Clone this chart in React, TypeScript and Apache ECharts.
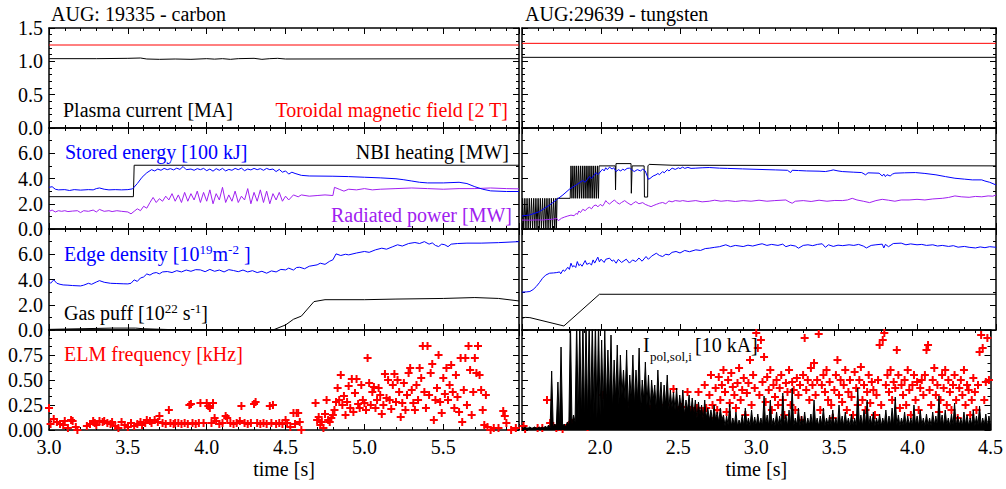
import React, { useEffect, useRef } from "react";
import * as echarts from "echarts";

const FONT = "'Liberation Serif', 'Times New Roman', Times, serif";
const BLUE = "#0000ff";
const RED = "#ff0000";
const PURPLE = "#a020f0";
const BLACK = "#000000";

const titles = ["AUG: 19335 - carbon", "AUG:29639 - tungsten"];
const xRangeLeft = [3.0, 5.98];
const xRangeRight = [1.5, 4.5];
// [min, max, interval, minorSplit, decimals]
const yScales = [
  [0, 1.5, 0.5, 5, 1],
  [0, 8, 2, 2, 1],
  [0, 8, 2, 2, 1],
  [0, 1, 0.25, 3, 2],
];

// Row 1: plasma current and toroidal field
const ipLeft = [[3.0, 1.04], [3.3, 1.04], [3.5, 1.045], [3.58, 1.05], [3.62, 1.035], [3.7, 1.03], [3.8, 1.035], [3.9, 1.03], [4.0, 1.04], [4.05, 1.033], [4.1, 1.04], [4.15, 1.03], [4.2, 1.04], [4.3, 1.045], [4.35, 1.03], [4.4, 1.04], [4.45, 1.045], [4.5, 1.035], [5.98, 1.04]];
const btLeft = [[3.0, 1.245], [5.98, 1.245]];
const ipRight = [[1.5, 1.06], [4.5, 1.06]];
const btRight = [[1.5, 1.27], [4.5, 1.27]];

// Row 2: stored energy, NBI, radiated power
const nbiLeft = [[3.0, 2.56], [3.535, 2.56], [3.54, 5.05], [5.98, 5.05]];
const weLeft = [[3.0, 3.3], [3.02, 3.35], [3.04, 3.15], [3.06, 3.1], [3.1, 3.12], [3.13, 3.05], [3.16, 3.12], [3.2, 3.08], [3.25, 3.12], [3.28, 3.1], [3.3, 3.2], [3.32, 3.25], [3.35, 3.15], [3.38, 3.1], [3.42, 3.12], [3.46, 3.1], [3.5, 3.12], [3.53, 3.18], [3.56, 3.6], [3.59, 4.1], [3.62, 4.45], [3.65, 4.7], [3.67, 4.6], [3.69, 4.75], [3.71, 4.65], [3.73, 4.8], [3.75, 4.7], [3.77, 4.78], [3.79, 4.68], [3.81, 4.82], [3.83, 4.72], [3.85, 4.95], [3.87, 4.7], [3.9, 4.75], [3.92, 4.65], [3.94, 4.78], [3.96, 4.7], [3.98, 4.8], [4.0, 4.62], [4.02, 4.75], [4.04, 4.58], [4.06, 4.78], [4.08, 4.65], [4.1, 4.8], [4.12, 4.6], [4.14, 4.72], [4.16, 4.65], [4.18, 4.8], [4.2, 4.7], [4.22, 4.82], [4.24, 4.62], [4.26, 4.75], [4.28, 4.68], [4.3, 4.8], [4.32, 4.7], [4.34, 4.78], [4.36, 4.65], [4.38, 4.8], [4.4, 4.7], [4.42, 4.75], [4.44, 4.55], [4.46, 4.72], [4.48, 4.5], [4.5, 4.6], [4.52, 4.35], [4.54, 4.5], [4.56, 4.4], [4.6, 4.25], [4.65, 4.2], [4.8, 4.18], [4.9, 4.15], [5.0, 4.1], [5.1, 4.05], [5.2, 3.98], [5.25, 3.9], [5.3, 3.8], [5.35, 3.7], [5.4, 3.65], [5.5, 3.65], [5.6, 3.7], [5.65, 3.6], [5.7, 3.35], [5.75, 3.15], [5.8, 3.02], [5.9, 2.97], [5.98, 2.97]];
const radLeft = [[3.0, 1.4], [3.02, 1.5], [3.04, 1.35], [3.06, 1.45], [3.08, 1.4], [3.1, 1.45], [3.12, 1.38], [3.15, 1.42], [3.18, 1.45], [3.2, 1.3], [3.22, 1.45], [3.25, 1.4], [3.28, 1.5], [3.3, 1.35], [3.32, 1.55], [3.35, 1.4], [3.38, 1.45], [3.4, 1.38], [3.43, 1.45], [3.46, 1.4], [3.5, 1.35], [3.52, 1.2], [3.54, 1.4], [3.56, 1.6], [3.58, 1.45], [3.6, 1.8], [3.62, 1.65], [3.64, 2.1], [3.66, 2.5], [3.68, 2.1], [3.7, 2.4], [3.72, 2.2], [3.74, 2.6], [3.76, 2.3], [3.78, 2.8], [3.8, 2.2], [3.82, 2.7], [3.84, 2.1], [3.86, 2.9], [3.88, 2.2], [3.9, 2.8], [3.92, 2.3], [3.94, 3.0], [3.96, 2.1], [3.98, 2.9], [4.0, 2.2], [4.02, 3.1], [4.04, 2.0], [4.06, 2.8], [4.08, 2.3], [4.1, 3.3], [4.12, 2.1], [4.14, 2.7], [4.16, 2.2], [4.18, 3.0], [4.2, 2.1], [4.22, 2.6], [4.24, 2.3], [4.26, 3.2], [4.28, 2.0], [4.3, 2.9], [4.32, 2.2], [4.34, 3.1], [4.36, 2.1], [4.38, 3.0], [4.4, 2.0], [4.42, 2.8], [4.44, 2.3], [4.46, 2.9], [4.48, 2.2], [4.5, 2.6], [4.52, 2.3], [4.55, 2.7], [4.58, 2.55], [4.6, 2.7], [4.65, 2.6], [4.7, 2.65], [4.75, 2.7], [4.8, 2.65], [4.81, 3.3], [4.84, 3.15], [4.87, 3.0], [4.9, 3.15], [4.95, 3.1], [5.0, 3.2], [5.05, 3.1], [5.1, 3.15], [5.2, 3.2], [5.3, 3.25], [5.4, 3.2], [5.5, 3.15], [5.6, 3.2], [5.7, 3.2], [5.8, 3.25], [5.9, 3.2], [5.98, 3.18]];
const nbiRight = [[1.5, 0], [1.504, 2.43], [1.511, 0], [1.518, 2.43], [1.525, 0], [1.532, 2.43], [1.539, 0], [1.546, 2.43], [1.553, 0], [1.56, 2.43], [1.567, 0], [1.574, 2.43], [1.581, 0], [1.588, 2.43], [1.595, 0], [1.602, 2.43], [1.609, 0], [1.616, 2.43], [1.623, 0], [1.63, 2.43], [1.637, 0], [1.644, 2.43], [1.651, 0], [1.658, 2.43], [1.665, 0], [1.672, 2.43], [1.679, 0], [1.686, 2.43], [1.693, 0], [1.7, 2.43], [1.707, 0], [1.714, 2.43], [1.718, 0], [1.722, 2.43], [1.805, 2.43], [1.81, 5.0], [1.816, 2.43], [1.822, 5.0], [1.828, 2.43], [1.834, 5.0], [1.84, 2.43], [1.846, 5.0], [1.852, 2.43], [1.858, 5.0], [1.864, 2.43], [1.87, 5.0], [1.876, 2.43], [1.882, 5.0], [1.888, 2.43], [1.894, 5.0], [1.9, 2.43], [1.906, 5.0], [1.912, 2.43], [1.918, 5.0], [1.924, 2.43], [1.93, 5.0], [1.936, 2.43], [1.942, 5.0], [1.948, 2.43], [1.954, 5.0], [1.96, 2.43], [1.966, 5.0], [1.972, 2.43], [1.978, 5.0], [1.984, 2.43], [1.988, 5.0], [2.09, 5.0], [2.092, 3.1], [2.095, 5.18], [2.19, 5.18], [2.192, 2.83], [2.197, 5.0], [2.273, 5.0], [2.275, 2.53], [2.295, 2.53], [2.297, 5.0], [2.305, 5.12], [2.45, 5.05], [4.5, 5.0]];
const weRight = [[1.5, 1.03], [1.548, 1.11], [1.61, 1.37], [1.675, 1.9], [1.717, 2.3], [1.759, 2.7], [1.8, 3.15], [1.843, 3.49], [1.885, 3.84], [1.9, 3.7], [1.927, 4.15], [1.94, 4.0], [1.969, 4.47], [1.98, 4.3], [2.0, 4.6], [2.01, 4.74], [2.02, 4.6], [2.03, 4.85], [2.04, 4.7], [2.054, 4.9], [2.07, 4.75], [2.08, 4.85], [2.096, 4.55], [2.11, 4.7], [2.125, 4.6], [2.138, 4.74], [2.15, 4.65], [2.165, 4.8], [2.18, 4.82], [2.195, 4.7], [2.21, 4.55], [2.23, 4.7], [2.25, 4.6], [2.264, 4.74], [2.28, 4.6], [2.3, 3.94], [2.31, 4.0], [2.33, 4.2], [2.348, 4.29], [2.36, 4.4], [2.37, 4.3], [2.39, 4.55], [2.4, 4.45], [2.42, 4.7], [2.43, 4.6], [2.45, 4.82], [2.47, 4.72], [2.49, 4.85], [2.5, 4.78], [2.517, 4.9], [2.53, 4.8], [2.55, 4.88], [2.57, 4.8], [2.6, 4.82], [2.64, 4.85], [2.685, 4.87], [2.75, 4.82], [2.8, 4.8], [2.896, 4.76], [3.0, 4.72], [3.106, 4.68], [3.18, 4.65], [3.2, 4.47], [3.21, 4.65], [3.25, 4.63], [3.3, 4.6], [3.38, 4.58], [3.42, 4.55], [3.45, 4.62], [3.47, 4.68], [3.5, 4.6], [3.527, 4.55], [3.6, 4.5], [3.65, 4.47], [3.675, 4.29], [3.69, 4.45], [3.76, 4.42], [3.78, 4.2], [3.79, 4.35], [3.8, 4.15], [3.81, 4.3], [3.83, 4.2], [3.845, 4.35], [3.86, 4.42], [3.92, 4.45], [3.99, 4.47], [4.05, 4.4], [4.12, 4.29], [4.18, 4.15], [4.24, 4.02], [4.3, 3.95], [4.35, 3.89], [4.41, 3.89], [4.43, 3.8], [4.46, 3.7], [4.5, 3.49]];
const radRight = [[1.5, 0.71], [1.55, 0.7], [1.6, 0.72], [1.63, 0.71], [1.66, 0.75], [1.69, 0.77], [1.72, 0.84], [1.73, 0.66], [1.75, 0.85], [1.77, 0.95], [1.79, 1.03], [1.81, 1.1], [1.83, 1.05], [1.843, 1.24], [1.85, 1.15], [1.86, 1.43], [1.87, 1.3], [1.885, 1.56], [1.9, 1.45], [1.915, 1.65], [1.927, 1.72], [1.94, 1.6], [1.955, 1.85], [1.969, 1.9], [1.98, 1.75], [1.995, 1.95], [2.01, 1.82], [2.02, 2.0], [2.03, 2.25], [2.04, 2.1], [2.054, 1.98], [2.07, 2.15], [2.085, 2.3], [2.1, 2.1], [2.117, 1.98], [2.13, 2.1], [2.15, 2.25], [2.165, 2.1], [2.19, 1.9], [2.205, 2.05], [2.22, 2.17], [2.24, 2.0], [2.264, 2.09], [2.28, 1.95], [2.3, 1.85], [2.317, 1.77], [2.33, 1.85], [2.35, 1.95], [2.37, 2.04], [2.39, 2.1], [2.41, 2.0], [2.43, 2.22], [2.45, 2.15], [2.47, 2.25], [2.5, 2.2], [2.517, 2.25], [2.55, 2.18], [2.6, 2.25], [2.64, 2.15], [2.685, 2.2], [2.72, 2.28], [2.76, 2.2], [2.8, 2.25], [2.85, 2.18], [2.9, 2.25], [2.95, 2.2], [3.0, 2.28], [3.05, 2.2], [3.1, 2.25], [3.17, 2.3], [3.19, 2.15], [3.21, 2.04], [3.23, 2.2], [3.28, 2.25], [3.33, 2.18], [3.38, 2.28], [3.43, 2.2], [3.48, 2.26], [3.527, 2.25], [3.56, 2.3], [3.59, 2.43], [3.62, 2.3], [3.66, 2.2], [3.7, 2.09], [3.74, 2.25], [3.78, 2.35], [3.82, 2.28], [3.86, 2.2], [3.9, 2.3], [3.95, 2.3], [4.0, 2.35], [4.05, 2.3], [4.1, 2.38], [4.16, 2.43], [4.2, 2.5], [4.24, 2.62], [4.28, 2.55], [4.33, 2.51], [4.37, 2.58], [4.41, 2.55], [4.45, 2.62], [4.48, 2.6], [4.5, 2.7]];

// Row 3: edge density and gas puff
const densLeft = [[3.0, 3.83], [3.01, 3.7], [3.03, 3.97], [3.05, 3.7], [3.07, 3.62], [3.09, 3.57], [3.12, 3.55], [3.15, 3.52], [3.2, 3.49], [3.22, 3.55], [3.25, 3.7], [3.27, 3.62], [3.3, 3.8], [3.32, 3.91], [3.35, 3.78], [3.39, 3.7], [3.43, 3.68], [3.47, 3.66], [3.5, 3.65], [3.52, 3.7], [3.54, 3.97], [3.56, 3.85], [3.58, 4.12], [3.6, 4.2], [3.62, 4.44], [3.64, 4.35], [3.66, 4.5], [3.68, 4.55], [3.7, 4.45], [3.72, 4.6], [3.75, 4.63], [3.78, 4.55], [3.81, 4.7], [3.84, 4.6], [3.87, 4.75], [3.9, 4.65], [3.93, 4.78], [3.96, 4.76], [3.99, 4.62], [4.02, 4.8], [4.05, 4.65], [4.08, 4.75], [4.11, 4.6], [4.14, 4.78], [4.17, 4.71], [4.2, 4.62], [4.23, 4.75], [4.26, 4.6], [4.29, 4.7], [4.32, 4.55], [4.35, 4.65], [4.38, 4.5], [4.41, 4.68], [4.44, 4.6], [4.47, 4.8], [4.5, 4.76], [4.52, 4.9], [4.55, 4.75], [4.57, 4.95], [4.59, 4.97], [4.62, 4.85], [4.65, 5.05], [4.7, 5.16], [4.72, 5.29], [4.75, 5.2], [4.78, 5.45], [4.8, 5.56], [4.82, 6.03], [4.85, 5.9], [4.88, 6.0], [4.9, 5.95], [4.95, 6.1], [5.0, 6.22], [5.03, 6.15], [5.07, 6.35], [5.11, 6.48], [5.14, 6.4], [5.18, 6.6], [5.21, 6.75], [5.24, 6.65], [5.28, 6.85], [5.32, 6.93], [5.35, 6.85], [5.38, 7.0], [5.41, 6.8], [5.43, 6.9], [5.45, 6.7], [5.47, 6.61], [5.49, 6.8], [5.51, 6.75], [5.53, 6.6], [5.55, 6.8], [5.59, 6.85], [5.65, 6.88], [5.74, 6.88], [5.85, 6.92], [5.98, 7.0]];
const gasLeft = [[3.0, 0.05], [3.2, 0.1], [3.4, 0.15], [3.55, 0.15], [3.6, 0.1], [3.8, 0.02], [4.2, 0.0], [4.42, 0.0], [4.5, 0.4], [4.55, 0.85], [4.6, 1.1], [4.68, 2.25], [4.75, 2.4], [5.0, 2.4], [5.2, 2.45], [5.5, 2.5], [5.7, 2.57], [5.85, 2.5], [5.98, 2.3]];
const densRight = [[1.5, 3.0], [1.53, 3.02], [1.55, 3.05], [1.57, 3.2], [1.59, 3.44], [1.61, 3.75], [1.63, 4.1], [1.65, 4.35], [1.675, 4.5], [1.7, 4.52], [1.72, 4.55], [1.738, 4.6], [1.745, 4.45], [1.76, 4.76], [1.77, 4.65], [1.79, 4.97], [1.8, 4.8], [1.81, 5.29], [1.82, 5.0], [1.83, 5.1], [1.84, 4.95], [1.85, 5.42], [1.86, 5.1], [1.87, 5.21], [1.88, 5.05], [1.9, 5.5], [1.91, 5.2], [1.927, 5.29], [1.94, 5.15], [1.95, 5.55], [1.96, 5.3], [1.98, 5.77], [1.99, 5.4], [2.0, 5.61], [2.02, 5.35], [2.03, 5.6], [2.054, 5.69], [2.07, 5.45], [2.08, 5.55], [2.096, 5.29], [2.11, 5.6], [2.13, 5.35], [2.16, 5.61], [2.18, 5.3], [2.2, 5.55], [2.22, 5.42], [2.24, 5.7], [2.26, 5.45], [2.285, 5.82], [2.3, 5.6], [2.32, 5.85], [2.35, 6.08], [2.37, 5.9], [2.39, 5.82], [2.41, 6.0], [2.43, 5.95], [2.45, 6.15], [2.475, 6.22], [2.5, 6.1], [2.53, 6.3], [2.56, 6.2], [2.6, 6.35], [2.63, 6.3], [2.66, 6.45], [2.685, 6.48], [2.72, 6.55], [2.75, 6.6], [2.79, 6.75], [2.82, 6.6], [2.85, 6.7], [2.9, 6.61], [2.93, 6.72], [2.96, 6.65], [3.0, 6.78], [3.02, 6.83], [3.05, 6.7], [3.08, 6.78], [3.12, 6.7], [3.15, 6.8], [3.17, 6.6], [3.2, 6.72], [3.23, 6.65], [3.25, 6.48], [3.28, 6.7], [3.31, 6.75], [3.34, 6.68], [3.37, 6.78], [3.4, 6.83], [3.42, 6.55], [3.44, 6.75], [3.47, 6.62], [3.5, 6.72], [3.53, 6.68], [3.57, 6.75], [3.6, 6.7], [3.63, 6.78], [3.66, 6.65], [3.68, 6.5], [3.71, 6.7], [3.74, 6.75], [3.78, 6.8], [3.79, 6.5], [3.8, 6.78], [3.82, 6.6], [3.85, 6.85], [3.9, 6.88], [3.93, 6.75], [3.96, 6.82], [4.0, 6.75], [4.03, 6.78], [4.06, 6.7], [4.1, 6.75], [4.13, 6.65], [4.16, 6.7], [4.2, 6.62], [4.23, 6.68], [4.26, 6.56], [4.3, 6.62], [4.33, 6.55], [4.37, 6.5], [4.4, 6.58], [4.43, 6.52], [4.46, 6.6], [4.5, 6.55]];
const gasRight = [[1.5, 0.93], [1.52, 1.0], [1.55, 0.98], [1.765, 0.32], [1.99, 2.83], [4.5, 2.83]];

// Row 4: ELM frequency and poloidal SOL current
const elmLeft = [[3.0, 0.22], [3.01, 0.06], [3.03, 0.11], [3.05, 0.08], [3.07, 0.06], [3.09, 0.05], [3.1, 0.09], [3.12, 0.02], [3.14, 0.1], [3.15, 0.09], [3.17, 0.03], [3.18, 0.0], [3.24, 0.04], [3.26, 0.06], [3.28, 0.09], [3.29, 0.07], [3.3, 0.05], [3.32, 0.09], [3.34, 0.08], [3.35, 0.09], [3.37, 0.07], [3.39, 0.06], [3.4, 0.08], [3.42, 0.04], [3.44, 0.02], [3.46, 0.08], [3.48, 0.05], [3.5, 0.03], [3.52, 0.07], [3.54, 0.04], [3.56, 0.06], [3.58, 0.08], [3.59, 0.05], [3.61, 0.07], [3.62, 0.1], [3.64, 0.09], [3.65, 0.07], [3.67, 0.1], [3.69, 0.08], [3.7, 0.14], [3.72, 0.07], [3.74, 0.06], [3.76, 0.2], [3.77, 0.07], [3.79, 0.06], [3.8, 0.07], [3.82, 0.07], [3.84, 0.06], [3.86, 0.07], [3.88, 0.06], [3.89, 0.25], [3.9, 0.26], [3.91, 0.07], [3.93, 0.06], [3.95, 0.07], [3.96, 0.27], [3.98, 0.07], [4.0, 0.27], [4.01, 0.24], [4.02, 0.22], [4.03, 0.07], [4.04, 0.27], [4.05, 0.12], [4.06, 0.09], [4.08, 0.06], [4.1, 0.07], [4.12, 0.14], [4.13, 0.12], [4.15, 0.07], [4.17, 0.06], [4.19, 0.07], [4.21, 0.09], [4.22, 0.24], [4.24, 0.07], [4.26, 0.06], [4.28, 0.07], [4.3, 0.26], [4.31, 0.28], [4.32, 0.07], [4.34, 0.06], [4.36, 0.07], [4.38, 0.06], [4.4, 0.24], [4.41, 0.07], [4.42, 0.25], [4.44, 0.06], [4.46, 0.07], [4.48, 0.06], [4.5, 0.1], [4.51, 0.07], [4.53, 0.03], [4.55, 0.17], [4.56, 0.06], [4.57, 0.17], [4.58, 0.17], [4.59, 0.08], [4.6, 0.0], [4.69, 0.27], [4.7, 0.1], [4.71, 0.13], [4.72, 0.05], [4.73, 0.08], [4.74, 0.02], [4.75, 0.16], [4.76, 0.3], [4.77, 0.1], [4.78, 0.08], [4.79, 0.12], [4.8, 0.15], [4.81, 0.2], [4.82, 0.28], [4.83, 0.42], [4.84, 0.3], [4.85, 0.55], [4.86, 0.25], [4.87, 0.34], [4.88, 0.15], [4.89, 0.28], [4.9, 0.44], [4.91, 0.22], [4.92, 0.51], [4.93, 0.18], [4.94, 0.37], [4.95, 0.51], [4.96, 0.26], [4.97, 0.22], [4.98, 0.45], [4.99, 0.3], [5.0, 0.27], [5.01, 0.2], [5.02, 0.72], [5.03, 0.47], [5.04, 0.25], [5.05, 0.38], [5.06, 0.43], [5.07, 0.22], [5.08, 0.3], [5.09, 0.42], [5.1, 0.35], [5.11, 0.16], [5.12, 0.25], [5.13, 0.56], [5.14, 0.32], [5.15, 0.5], [5.16, 0.3], [5.17, 0.21], [5.18, 0.45], [5.19, 0.56], [5.2, 0.28], [5.21, 0.5], [5.22, 0.38], [5.23, 0.13], [5.24, 0.27], [5.25, 0.47], [5.26, 0.2], [5.27, 0.35], [5.28, 0.57], [5.29, 0.62], [5.3, 0.4], [5.31, 0.27], [5.32, 0.2], [5.33, 0.45], [5.34, 0.3], [5.35, 0.62], [5.36, 0.52], [5.37, 0.84], [5.38, 0.38], [5.39, 0.22], [5.4, 0.84], [5.41, 0.35], [5.42, 0.57], [5.43, 0.66], [5.44, 0.1], [5.45, 0.3], [5.46, 0.42], [5.47, 0.75], [5.48, 0.28], [5.49, 0.17], [5.5, 0.52], [5.51, 0.36], [5.52, 0.62], [5.53, 0.3], [5.54, 0.45], [5.55, 0.65], [5.56, 0.38], [5.57, 0.22], [5.58, 0.55], [5.59, 0.33], [5.6, 0.18], [5.61, 0.72], [5.62, 0.08], [5.63, 0.4], [5.64, 0.72], [5.65, 0.25], [5.66, 0.84], [5.67, 0.6], [5.68, 0.15], [5.69, 0.38], [5.7, 0.72], [5.71, 0.57], [5.72, 0.84], [5.73, 0.55], [5.74, 0.4], [5.75, 0.2], [5.76, 0.05], [5.77, 0.35], [5.78, 0.03], [5.8, 0.0], [5.82, 0.02], [5.85, 0.02], [5.88, 0.19], [5.89, 0.14], [5.9, 0.07], [5.93, 0.0], [5.96, 0.02]];
const elmRight = [[1.51, 0.04], [1.52, 0.01], [1.6, 0.02], [1.63, 0.02], [1.66, 0.3], [1.68, 0.07], [1.7, 0.04], [1.72, 0.02], [1.74, 0.03], [1.76, 0.01], [1.8, 0.05], [1.82, 0.07], [1.84, 0.04], [1.86, 0.06], [1.88, 0.04], [1.9, 0.05], [1.92, 0.03], [1.94, 0.06], [1.96, 0.04], [1.98, 0.07], [2.0, 0.05], [2.02, 0.35], [2.03, 0.08], [2.05, 0.12], [2.06, 0.06], [2.08, 0.2], [2.09, 0.1], [2.1, 0.15], [2.11, 0.08], [2.12, 0.19], [2.13, 0.12], [2.15, 0.16], [2.16, 0.25], [2.17, 0.1], [2.18, 0.18], [2.2, 0.14], [2.21, 0.22], [2.22, 0.09], [2.23, 0.17], [2.24, 0.13], [2.25, 0.23], [2.26, 0.15], [2.27, 0.08], [2.28, 0.2], [2.29, 0.16], [2.3, 0.11], [2.32, 0.19], [2.33, 0.13], [2.34, 0.24], [2.35, 0.1], [2.36, 0.17], [2.38, 0.21], [2.39, 0.14], [2.4, 0.09], [2.41, 0.18], [2.42, 0.25], [2.43, 0.13], [2.45, 0.2], [2.46, 0.16], [2.47, 0.41], [2.48, 0.12], [2.5, 0.19], [2.51, 0.15], [2.52, 0.23], [2.53, 0.12], [2.55, 0.17], [2.56, 0.38], [2.57, 0.13], [2.58, 0.2], [2.6, 0.15], [2.61, 0.1], [2.62, 0.22], [2.63, 0.38], [2.64, 0.16], [2.65, 0.12], [2.66, 0.19], [2.67, 0.45], [2.68, 0.22], [2.7, 0.35], [2.71, 0.55], [2.72, 0.25], [2.73, 0.12], [2.74, 0.42], [2.75, 0.2], [2.76, 0.53], [2.77, 0.3], [2.78, 0.45], [2.79, 0.6], [2.8, 0.38], [2.81, 0.18], [2.82, 0.5], [2.83, 0.27], [2.84, 0.57], [2.85, 0.43], [2.86, 0.35], [2.87, 0.22], [2.88, 0.47], [2.89, 0.62], [2.9, 0.3], [2.91, 0.4], [2.92, 0.52], [2.93, 0.15], [2.94, 0.37], [2.95, 0.47], [2.96, 0.7], [2.97, 0.25], [2.98, 0.55], [2.99, 0.42], [3.0, 0.97], [3.01, 0.82], [3.02, 0.35], [3.03, 0.9], [3.04, 0.48], [3.05, 0.73], [3.06, 0.28], [3.07, 0.53], [3.08, 0.4], [3.09, 0.6], [3.1, 0.2], [3.11, 0.45], [3.12, 0.33], [3.13, 0.5], [3.14, 0.25], [3.15, 0.42], [3.16, 0.55], [3.17, 0.3], [3.18, 0.15], [3.19, 0.47], [3.2, 0.38], [3.21, 0.6], [3.22, 0.25], [3.23, 0.48], [3.24, 0.4], [3.25, 0.2], [3.26, 0.52], [3.27, 0.35], [3.28, 0.45], [3.29, 0.1], [3.3, 0.55], [3.31, 0.92], [3.32, 0.4], [3.33, 0.5], [3.34, 0.3], [3.35, 0.62], [3.36, 0.45], [3.37, 0.67], [3.38, 0.35], [3.39, 0.5], [3.4, 0.96], [3.41, 0.2], [3.42, 0.45], [3.43, 0.55], [3.44, 0.38], [3.45, 0.6], [3.46, 0.3], [3.47, 0.48], [3.48, 0.25], [3.49, 0.12], [3.5, 0.4], [3.51, 0.55], [3.52, 0.7], [3.53, 0.35], [3.54, 0.5], [3.55, 0.28], [3.56, 0.45], [3.57, 0.6], [3.58, 0.2], [3.59, 0.38], [3.6, 0.5], [3.61, 0.33], [3.62, 0.15], [3.63, 0.58], [3.64, 0.42], [3.65, 0.25], [3.66, 0.5], [3.67, 0.63], [3.68, 0.3], [3.69, 0.45], [3.7, 0.2], [3.71, 0.38], [3.72, 0.55], [3.73, 0.27], [3.74, 0.48], [3.75, 0.4], [3.76, 0.15], [3.77, 0.35], [3.78, 0.5], [3.79, 0.85], [3.8, 0.25], [3.81, 0.9], [3.82, 0.97], [3.83, 0.45], [3.84, 0.55], [3.85, 0.38], [3.86, 0.6], [3.87, 0.3], [3.88, 0.48], [3.89, 0.42], [3.9, 0.8], [3.91, 0.55], [3.92, 0.22], [3.93, 0.45], [3.94, 0.35], [3.95, 0.5], [3.96, 0.25], [3.97, 0.6], [3.98, 0.4], [3.99, 0.15], [4.0, 0.45], [4.01, 0.55], [4.02, 0.3], [4.03, 0.48], [4.04, 0.2], [4.05, 0.42], [4.06, 0.5], [4.07, 0.35], [4.08, 0.55], [4.09, 0.8], [4.1, 0.85], [4.11, 0.4], [4.12, 0.25], [4.13, 0.5], [4.14, 0.62], [4.15, 0.35], [4.16, 0.45], [4.17, 0.18], [4.18, 0.3], [4.19, 0.55], [4.2, 0.42], [4.21, 0.6], [4.22, 0.25], [4.23, 0.5], [4.24, 0.38], [4.25, 0.2], [4.26, 0.45], [4.27, 0.55], [4.28, 0.3], [4.29, 0.12], [4.3, 0.42], [4.31, 0.5], [4.32, 0.35], [4.33, 0.6], [4.34, 0.25], [4.35, 0.45], [4.36, 0.4], [4.37, 0.15], [4.38, 0.3], [4.39, 0.52], [4.4, 0.38], [4.41, 0.2], [4.42, 0.45], [4.43, 0.78], [4.44, 0.95], [4.45, 0.82], [4.46, 0.3], [4.47, 0.48], [4.48, 0.92], [4.49, 0.5]];

// Ipol,sol,i signal sampled every 10 ms from 1.50 s
const ipolStart = 1.5;
const ipolStep = 0.01;
const ipolValues = [
  0.02, 0.02, 0.03, 0.02, 0.02, 0.03, 0.02, 0.02, 0.03, 0.02,
  0.02, 0.03, 0.02, 0.03, 0.02, 0.04, 0.02, 0.05, 0.02, 0.59,
  0.03, 0.06, 0.04, 0.48, 0.03, 0.83, 0.04, 0.06, 0.03, 0.08,
  0.05, 1.1, 0.06, 0.15, 0.08, 1.1, 0.1, 1.1, 0.08, 1.1,
  0.1, 1.1, 0.12, 1.1, 0.1, 1.1, 0.15, 1.1, 0.12, 1.1,
  0.15, 0.9, 0.2, 1.0, 0.25, 0.8, 0.3, 0.95, 0.2, 0.7,
  0.3, 0.85, 0.25, 0.75, 0.35, 0.6, 0.3, 0.8, 0.2, 0.55,
  0.3, 0.75, 0.25, 0.6, 0.3, 0.82, 0.2, 0.5, 0.3, 0.68,
  0.25, 0.55, 0.2, 0.5, 0.3, 0.45, 0.2, 0.6, 0.25, 0.48,
  0.2, 0.45, 0.25, 0.55, 0.2, 0.4, 0.22, 0.38, 0.2, 0.42,
  0.18, 0.35, 0.2, 0.4, 0.15, 0.3, 0.2, 0.35, 0.15, 0.32,
  0.15, 0.3, 0.12, 0.28, 0.15, 0.25, 0.1, 0.3, 0.12, 0.22,
  0.1, 0.2, 0.08, 0.25, 0.1, 0.18, 0.08, 0.22, 0.1, 0.15,
  0.04, 0.14, 0.05, 0.26, 0.04, 0.12, 0.05, 0.18, 0.04, 0.1,
  0.05, 0.15, 0.04, 0.22, 0.05, 0.12, 0.04, 0.2, 0.05, 0.13,
  0.04, 0.16, 0.05, 0.12, 0.04, 0.34, 0.05, 0.15, 0.04, 0.3,
  0.05, 0.12, 0.04, 0.18, 0.05, 0.14, 0.04, 0.37, 0.05, 0.15,
  0.04, 0.2, 0.05, 0.42, 0.04, 0.12, 0.05, 0.22, 0.04, 0.14,
  0.05, 0.18, 0.04, 0.12, 0.05, 0.16, 0.04, 0.3, 0.05, 0.12,
  0.04, 0.14, 0.05, 0.22, 0.04, 0.12, 0.05, 0.15, 0.04, 0.2,
  0.05, 0.12, 0.04, 0.25, 0.05, 0.14, 0.04, 0.18, 0.05, 0.12,
  0.04, 0.16, 0.05, 0.12, 0.04, 0.42, 0.05, 0.15, 0.04, 0.2,
  0.05, 0.3, 0.04, 0.14, 0.05, 0.18, 0.04, 0.12, 0.05, 0.16,
  0.04, 0.12, 0.05, 0.2, 0.04, 0.14, 0.05, 0.22, 0.04, 0.33,
  0.05, 0.15, 0.04, 0.12, 0.05, 0.18, 0.04, 0.14, 0.05, 0.12,
  0.04, 0.25, 0.05, 0.14, 0.04, 0.2, 0.05, 0.12, 0.04, 0.16,
  0.05, 0.12, 0.04, 0.18, 0.05, 0.14, 0.04, 0.34, 0.05, 0.15,
  0.04, 0.2, 0.05, 0.12, 0.04, 0.16, 0.05, 0.27, 0.04, 0.14,
  0.05, 0.12, 0.04, 0.18, 0.05, 0.15, 0.04, 0.12, 0.05, 0.2,
  0.04, 0.14, 0.05, 0.24, 0.04, 0.12, 0.05, 0.16, 0.04, 0.14,
  0.05,
];

const PLUS = "path://M3,0L5,0L5,3L8,3L8,5L5,5L5,8L3,8L3,5L0,5L0,3L3,3Z";

function buildOption() {
  const colLeft = [49, 522];
  const colWidth = [470, 474];
  const rowTop = [28, 128, 229, 330];
  const rowHeight = [100, 101, 101, 100];
  const grids: any[] = [];
  const xAxes: any[] = [];
  const yAxes: any[] = [];
  const lineStyle = { color: BLACK, width: 1.5 };
  const tickStyle = { color: BLACK, width: 1 };

  for (let r = 0; r < 4; r++) {
    for (let c = 0; c < 2; c++) {
      const g = r * 2 + c;
      grids.push({ left: colLeft[c], top: rowTop[r], width: colWidth[c], height: rowHeight[r] });
      const xr = c === 0 ? xRangeLeft : xRangeRight;
      for (const pos of ["bottom", "top"]) {
        const showLab = pos === "bottom" && r === 3;
        xAxes.push({
          type: "value", gridIndex: g, position: pos, min: xr[0], max: xr[1], interval: 0.5,
          axisLine: { show: true, onZero: false, lineStyle },
          axisTick: { show: true, inside: true, length: 6, lineStyle: tickStyle },
          minorTick: { show: true, splitNumber: 5, length: 3, lineStyle: tickStyle },
          splitLine: { show: false },
          axisLabel: {
            show: showLab, color: BLACK, fontSize: 20, fontFamily: FONT, margin: 7,
            showMinLabel: c === 0, showMaxLabel: c === 1,
            formatter: (v: number) => v.toFixed(1),
          },
          name: showLab ? "time [s]" : "",
          nameLocation: "middle", nameGap: 29,
          nameTextStyle: { color: BLACK, fontSize: 20, fontFamily: FONT },
        });
      }
      const ys = yScales[r];
      for (const pos of ["left", "right"]) {
        const showLab = pos === "left" && c === 0;
        yAxes.push({
          type: "value", gridIndex: g, position: pos, min: ys[0], max: ys[1], interval: ys[2],
          axisLine: { show: true, onZero: false, lineStyle },
          axisTick: { show: true, inside: true, length: 6, lineStyle: tickStyle },
          minorTick: { show: true, splitNumber: ys[3], length: 3, lineStyle: tickStyle },
          splitLine: { show: false },
          axisLabel: {
            show: showLab, color: BLACK, fontSize: 20, fontFamily: FONT, margin: 6,
            showMaxLabel: r === 0,
            formatter: (v: number) => v.toFixed(ys[4]),
          },
        });
      }
    }
  }

  const line = (g: number, data: number[][], color: string, width = 1, area = false) => ({
    type: "line", xAxisIndex: g * 2, yAxisIndex: g * 2, data, showSymbol: false, symbol: "none",
    lineStyle: { color, width }, itemStyle: { color }, clip: true, silent: true, animation: false,
    areaStyle: area ? { color, opacity: 1, origin: "start" } : undefined,
  });
  const scatter = (g: number, data: number[][]) => ({
    type: "scatter", xAxisIndex: g * 2, yAxisIndex: g * 2, data, symbol: PLUS, symbolSize: 8,
    itemStyle: { color: RED, opacity: 1 }, clip: true, silent: true, animation: false,
  });

  const ipolData = ipolValues.map((v, i) => [ipolStart + i * ipolStep, v]);

  const series = [
    line(0, btLeft, RED), line(0, ipLeft, BLACK),
    line(1, btRight, RED), line(1, ipRight, BLACK),
    line(2, nbiLeft, BLACK), line(2, radLeft, PURPLE), line(2, weLeft, BLUE),
    line(3, nbiRight, BLACK), line(3, radRight, PURPLE), line(3, weRight, BLUE),
    line(4, gasLeft, BLACK), line(4, densLeft, BLUE),
    line(5, gasRight, BLACK), line(5, densRight, BLUE),
    scatter(6, elmLeft),
    line(7, ipolData, BLACK, 1, true), scatter(7, elmRight),
  ];

  const txt = (text: string, x: number, y: number, fill: string, align = "left", size = 20) => ({
    type: "text", x, y, z: 100, silent: true,
    style: {
      text, fill, fontSize: size, fontFamily: FONT,
      align, verticalAlign: "middle", textAlign: align, textVerticalAlign: "middle",
    },
  });
  const richTxt = (text: string, x: number, y: number, fill: string) => ({
    type: "text", x, y, z: 100, silent: true,
    style: {
      text, fill, fontSize: 20, fontFamily: FONT,
      align: "left", verticalAlign: "middle", textAlign: "left", textVerticalAlign: "middle",
      rich: {
        n: { fontSize: 20, fontFamily: FONT, fill, lineHeight: 22 },
        s: { fontSize: 13, fontFamily: FONT, fill, verticalAlign: "top", lineHeight: 13 },
      },
    },
  });

  const graphic = [
    txt(titles[0], 51, 14, BLACK),
    txt(titles[1], 525, 14, BLACK),
    txt("Plasma current [MA]", 63, 110, BLACK),
    txt("Toroidal magnetic field [2 T]", 508, 110, RED, "right"),
    txt("Stored energy [100 kJ]", 65, 152, BLUE),
    txt("NBI heating [MW]", 509, 152, BLACK, "right"),
    txt("Radiated power [MW]", 512, 215, PURPLE, "right"),
    richTxt("{n|Edge density [10}{s|19}{n|m}{s|-2}{n| ]}", 64, 254, BLUE),
    richTxt("{n|Gas puff [10}{s|22}{n| s}{s|-1}{n|]}", 64, 313, BLACK),
    txt("ELM frequency [kHz]", 64, 354, RED),
    txt("I", 643, 345, BLACK),
    txt("pol,sol,i", 650, 356, BLACK, "left", 13),
    txt("[10 kA]", 695, 345, BLACK),
  ];

  return {
    animation: false,
    backgroundColor: "#ffffff",
    textStyle: { fontFamily: FONT },
    grid: grids,
    xAxis: xAxes,
    yAxis: yAxes,
    series,
    graphic,
  };
}

export default function App() {
  const ref = useRef<HTMLDivElement>(null);
  useEffect(() => {
    const chart = echarts.init(ref.current as HTMLDivElement, null, { renderer: "svg" });
    chart.setOption(buildOption() as any);
    return () => chart.dispose();
  }, []);
  return (
    <div
      ref={ref}
      style={{ position: "fixed", left: 0, top: 0, width: 1006, height: 489, background: "#fff" }}
    />
  );
}
